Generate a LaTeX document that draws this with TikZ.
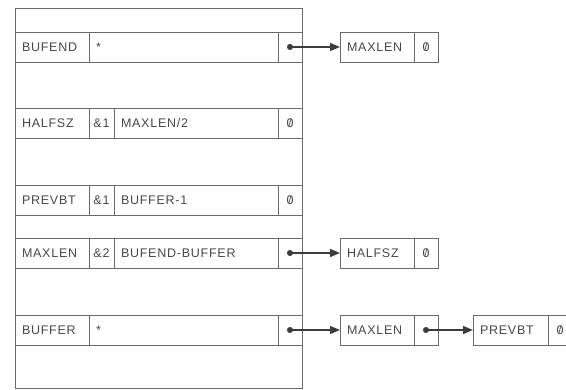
\documentclass[tikz,border=0pt]{standalone}
\usepackage{graphicx}
\usepackage{fontspec}
\setsansfont{Liberation Sans}[LetterSpace=6]
\usetikzlibrary{positioning, arrows.meta}

\definecolor{linegray}{HTML}{6A6A6A}
\definecolor{textgray}{HTML}{474747}
\definecolor{arrowgray}{HTML}{3C3C3C}

% slashed zero as printed in the listing
\newcommand{\slzero}{\ooalign{0\cr\hidewidth\raisebox{0.6pt}{\scalebox{0.85}{/}}\hidewidth\cr}}

\tikzset{
  cell/.style={draw=linegray, line width=0.8pt, rectangle, outer sep=0pt,
    minimum height=30pt, inner xsep=7pt, inner ysep=0pt,
    text height=9pt, text depth=0pt, text=textgray},
  lcell/.style={cell, text width=#1, align=left},
  ccell/.style={cell, inner xsep=0pt, minimum width=#1},
  frame/.style={draw=linegray, line width=0.8pt, rectangle, outer sep=0pt, anchor=north west},
  ptr/.style={draw=arrowgray, line width=1.4pt, shorten <=-3pt,
    {Circle[length=6pt]}-{Triangle[length=10pt,width=8pt]}}
}

\begin{document}
\begin{tikzpicture}[x=1pt, y=-1pt, font=\sffamily\fontsize{12.5}{15}\selectfont]
    \useasboundingbox (0,0) rectangle (566,390);

    % Storage block
    \node[frame, minimum width=287pt, minimum height=380.5pt] (store) at (15,8) {};

    % BUFEND row
    \node[lcell=60pt, anchor=north west] (bufend) at (15,32) {BUFEND};
    \node[lcell=175pt, right=0pt of bufend] (bufend-val) {*};
    \node[ccell=24pt, right=0pt of bufend-val] (bufend-ptr) {};

    % HALFSZ row
    \node[lcell=60pt, anchor=north west] (halfsz) at (15,108) {HALFSZ};
    \node[ccell=25pt, right=0pt of halfsz] (halfsz-amp) {\&1};
    \node[lcell=150pt, right=0pt of halfsz-amp] (halfsz-val) {MAXLEN/2};
    \node[ccell=24pt, right=0pt of halfsz-val] (halfsz-ptr) {\slzero};

    % PREVBT row
    \node[lcell=60pt, anchor=north west] (prevbt) at (15,185) {PREVBT};
    \node[ccell=25pt, right=0pt of prevbt] (prevbt-amp) {\&1};
    \node[lcell=150pt, right=0pt of prevbt-amp] (prevbt-val) {BUFFER-1};
    \node[ccell=24pt, right=0pt of prevbt-val] (prevbt-ptr) {\slzero};

    % MAXLEN row
    \node[lcell=60pt, anchor=north west] (maxlen) at (15,238) {MAXLEN};
    \node[ccell=25pt, right=0pt of maxlen] (maxlen-amp) {\&2};
    \node[lcell=150pt, right=0pt of maxlen-amp] (maxlen-val) {BUFEND-BUFFER};
    \node[ccell=24pt, right=0pt of maxlen-val] (maxlen-ptr) {};

    % BUFFER row
    \node[lcell=60pt, anchor=north west] (buffer) at (15,315) {BUFFER};
    \node[lcell=175pt, right=0pt of buffer] (buffer-val) {*};
    \node[ccell=24pt, right=0pt of buffer-val] (buffer-ptr) {};

    % Chains
    \node[lcell=60pt, right=38pt of bufend-ptr] (bufend-ref) {MAXLEN};
    \node[ccell=24pt, right=0pt of bufend-ref] (bufend-ref-nil) {\slzero};

    \node[lcell=60pt, right=38pt of maxlen-ptr] (maxlen-ref) {HALFSZ};
    \node[ccell=24pt, right=0pt of maxlen-ref] (maxlen-ref-nil) {\slzero};

    \node[lcell=60pt, right=38pt of buffer-ptr] (buffer-ref) {MAXLEN};
    \node[ccell=24pt, right=0pt of buffer-ref] (buffer-ref-ptr) {};
    \node[lcell=61pt, right=35pt of buffer-ref-ptr] (buffer-next) {PREVBT};
    \node[ccell=24pt, right=0pt of buffer-next] (buffer-next-nil) {\slzero};

    % Pointers
    \draw[ptr] (bufend-ptr.center) -- (bufend-ref.west);
    \draw[ptr] (maxlen-ptr.center) -- (maxlen-ref.west);
    \draw[ptr] (buffer-ptr.center) -- (buffer-ref.west);
    \draw[ptr] (buffer-ref-ptr.center) -- (buffer-next.west);
\end{tikzpicture}
\end{document}
